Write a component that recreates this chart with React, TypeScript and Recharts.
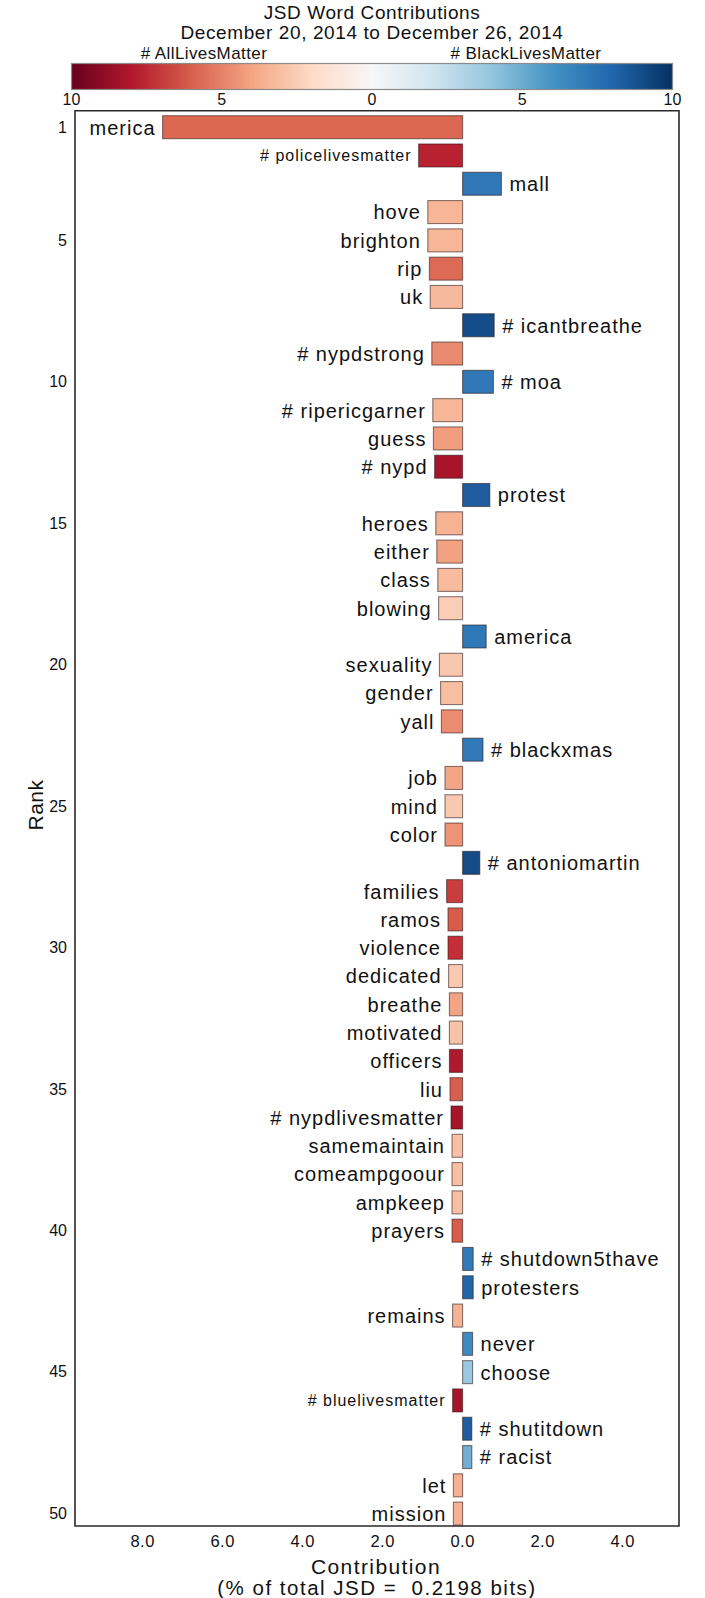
import React from 'react';
import { BarChart, Bar, XAxis, YAxis, ReferenceArea } from 'recharts';

const ranks = [1, 2, 3, 4, 5, 6, 7, 8, 9, 10, 11, 12, 13, 14, 15, 16, 17, 18, 19, 20, 21, 22, 23, 24, 25, 26, 27, 28, 29, 30, 31, 32, 33, 34, 35, 36, 37, 38, 39, 40, 41, 42, 43, 44, 45, 46, 47, 48, 49, 50];

const words = [
  'merica', '# policelivesmatter', 'mall', 'hove', 'brighton', 'rip', 'uk', '# icantbreathe', '# nypdstrong', '# moa',
  '# ripericgarner', 'guess', '# nypd', 'protest', 'heroes', 'either', 'class', 'blowing', 'america', 'sexuality',
  'gender', 'yall', '# blackxmas', 'job', 'mind', 'color', '# antoniomartin', 'families', 'ramos', 'violence',
  'dedicated', 'breathe', 'motivated', 'officers', 'liu', '# nypdlivesmatter', 'samemaintain', 'comeampgoour', 'ampkeep', 'prayers',
  '# shutdown5thave', 'protesters', 'remains', 'never', 'choose', '# bluelivesmatter', '# shutitdown', '# racist', 'let', 'mission',
];

// negative = toward #AllLivesMatter (left), positive = toward #BlackLivesMatter (right), % of total JSD
const contributions = [
  -7.5, -1.1, 0.97, -0.87, -0.87, -0.83, -0.81, 0.79, -0.77, 0.77,
  -0.745, -0.73, -0.7, 0.68, -0.67, -0.645, -0.62, -0.6, 0.59, -0.58,
  -0.55, -0.53, 0.51, -0.44, -0.44, -0.44, 0.43, -0.4, -0.365, -0.365,
  -0.35, -0.33, -0.33, -0.33, -0.315, -0.29, -0.265, -0.265, -0.265, -0.265,
  0.265, 0.265, -0.25, 0.25, 0.25, -0.25, 0.23, 0.23, -0.23, -0.23,
];

const barColors = [
  '#dc6852', '#b82230', '#2f77b7', '#f6b697', '#f6b697', '#dc6a55', '#f7b99b', '#154d8a', '#ea8a6e', '#3078b8',
  '#f6b697', '#f09e7e', '#a8152b', '#1f5b9f', '#f5b394', '#f2a181', '#f7bb9e', '#f9cdb6', '#2f78b8', '#f8c6ad',
  '#f7bea2', '#eb8c6f', '#3179b9', '#f3a686', '#f9c8b0', '#ee9375', '#154b87', '#c93d3f', '#d85c4c', '#c42f37',
  '#f9c8b0', '#f2a383', '#f8c4a9', '#ae1a2d', '#d6604d', '#a8152b', '#f8c0a5', '#f8c0a5', '#f8c0a5', '#d85c4c',
  '#3179b9', '#2266a8', '#f6b496', '#3f8ac0', '#9ac8e0', '#a8152b', '#1f5ca0', '#72afd4', '#f6b194', '#f6b194',
];

const xTicks = [-8, -6, -4, -2, 0, 2, 4];
const yTicks = [1, 5, 10, 15, 20, 25, 30, 35, 40, 45, 50];
const colorbarTicks = ['10', '5', '0', '5', '10'];

const X_DOMAIN: [number, number] = [-9.69, 5.41];
const Y_DOMAIN: [number, number] = [0.43, 50.45];

const SMALL_LABELS = new Set(['# policelivesmatter', '# bluelivesmatter']);
const FONT = '"Liberation Sans", Arial, Helvetica, sans-serif';

const data = ranks.map((r, i) => ({ rank: r, word: words[i], value: contributions[i], color: barColors[i] }));

const BarShape = (props: any) => {
  const { x, y, width, height, payload } = props;
  if (x == null || y == null) return null;
  const left = Math.min(x, x + width);
  const w = Math.abs(width);
  const top = Math.min(y, y + height);
  const h = Math.abs(height);
  const neg = payload.value < 0;
  const small = SMALL_LABELS.has(payload.word);
  const fs = small ? 16 : 20;
  const cy = top + h / 2;
  return (
    <g>
      <rect x={left} y={top} width={w} height={h} fill={payload.color} stroke="rgba(40,20,20,0.55)" strokeWidth={1.1} />
      <text
        x={neg ? left - 7 : left + w + 8}
        y={cy + fs * 0.37}
        textAnchor={neg ? 'end' : 'start'}
        fontSize={fs}
        letterSpacing={1}
        fontFamily={FONT}
        fill="#111"
      >
        {payload.word}
      </text>
    </g>
  );
};

const XTick = (props: any) => {
  const { x, y, payload } = props;
  return (
    <text x={x} y={y + 21} textAnchor="middle" fontSize={16.5} letterSpacing={0.5} fontFamily={FONT} fill="#111">
      {Math.abs(payload.value).toFixed(1)}
    </text>
  );
};

const YTick = (props: any) => {
  const { x, y, payload } = props;
  return (
    <text x={x - 8} y={y + 5.7} textAnchor="end" fontSize={16} fontFamily={FONT} fill="#111">
      {payload.value}
    </text>
  );
};

const gradStops = ['#67001f', '#b2182b', '#d6604d', '#f4a582', '#fddbc7', '#f7f7f7', '#d1e5f0', '#92c5de', '#4393c3', '#2166ac', '#053061'];

export default function App() {
  const cbLeft = 71.5;
  const cbRight = 672.5;
  const cbW = cbRight - cbLeft;
  return (
    <div style={{ position: 'absolute', left: 0, top: 0, width: 705, height: 1598, background: '#fff' }}>
      <BarChart
        width={705}
        height={1598}
        data={data}
        layout="vertical"
        margin={{ top: 110.7, right: 26, bottom: 0, left: 0 }}
      >
        <XAxis
          type="number"
          dataKey="value"
          domain={X_DOMAIN}
          ticks={xTicks}
          interval={0}
          height={72}
          axisLine={false}
          tickLine={false}
          tickSize={0}
          tickMargin={0}
          tick={<XTick />}
          allowDataOverflow
        />
        <YAxis
          type="number"
          dataKey="rank"
          domain={Y_DOMAIN}
          ticks={yTicks}
          interval={0}
          width={75}
          axisLine={false}
          tickLine={false}
          tickSize={0}
          tickMargin={0}
          tick={<YTick />}
          allowDataOverflow
        />
        <ReferenceArea
          x1={X_DOMAIN[0]}
          x2={X_DOMAIN[1]}
          y1={Y_DOMAIN[0]}
          y2={Y_DOMAIN[1]}
          fill="none"
          fillOpacity={0}
          stroke="#2a2a2a"
          strokeWidth={1.6}
          ifOverflow="visible"
        />
        <Bar dataKey="value" barSize={23} isAnimationActive={false} shape={<BarShape />} />
      </BarChart>
      <svg
        width={705}
        height={1598}
        style={{ position: 'absolute', left: 0, top: 0, pointerEvents: 'none' }}
        fontFamily={FONT}
      >
        <defs>
          <linearGradient id="rdbu" x1="0" x2="1" y1="0" y2="0">
            {gradStops.map((c, i) => (
              <stop key={i} offset={i / (gradStops.length - 1)} stopColor={c} />
            ))}
          </linearGradient>
        </defs>
        <text x={372} y={19} textAnchor="middle" fontSize={19} letterSpacing={0.6} fill="#111">
          JSD Word Contributions
        </text>
        <text x={372} y={38.5} textAnchor="middle" fontSize={19} letterSpacing={0.6} fill="#111">
          December 20, 2014 to December 26, 2014
        </text>
        <text x={204} y={59} textAnchor="middle" fontSize={17} letterSpacing={0.4} fill="#111">
          # AllLivesMatter
        </text>
        <text x={526} y={59} textAnchor="middle" fontSize={17} letterSpacing={0.4} fill="#111">
          # BlackLivesMatter
        </text>
        <rect x={cbLeft} y={63.5} width={cbW} height={26} fill="url(#rdbu)" stroke="#8a8a8a" strokeWidth={1.2} />
        {colorbarTicks.map((t, i) => (
          <text key={i} x={cbLeft + (cbW * i) / (colorbarTicks.length - 1)} y={105} textAnchor="middle" fontSize={16} fill="#111">
            {t}
          </text>
        ))}
        <text x={376} y={1573.5} textAnchor="middle" fontSize={21} letterSpacing={1.4} fill="#111">
          Contribution
        </text>
        <text x={377} y={1594.5} textAnchor="middle" fontSize={20.5} letterSpacing={1.5} fill="#111" style={{ whiteSpace: 'pre' }}>
          {'(% of total JSD =  0.2198 bits)'}
        </text>
        <text
          x={0}
          y={0}
          transform="translate(43 805) rotate(-90)"
          textAnchor="middle"
          fontSize={21}
          letterSpacing={0.5}
          fill="#111"
        >
          Rank
        </text>
      </svg>
    </div>
  );
}
